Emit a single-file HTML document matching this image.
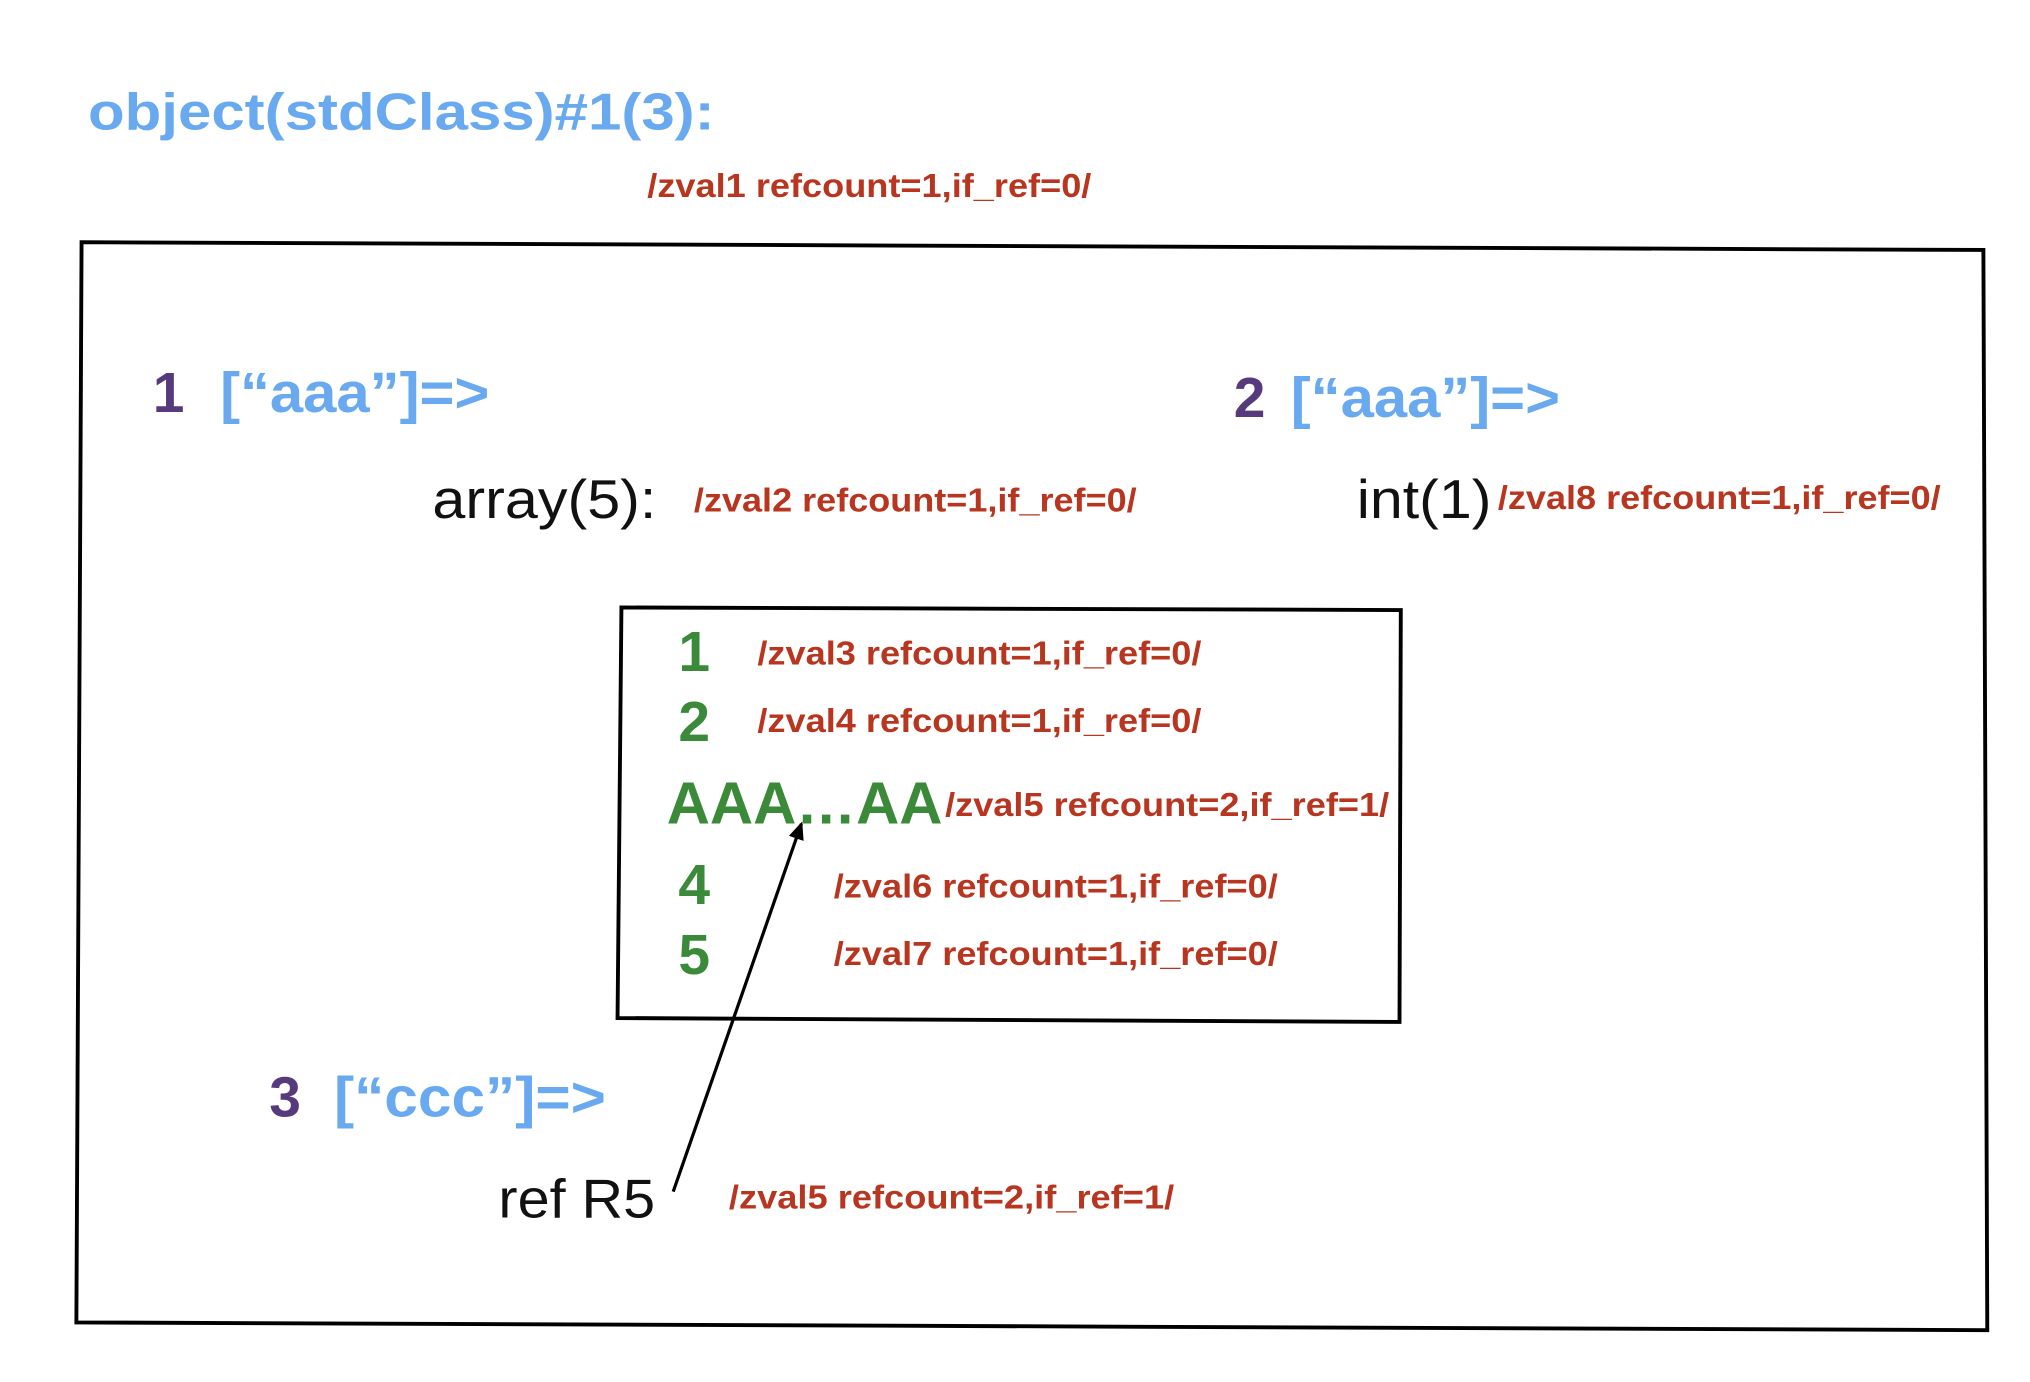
<!DOCTYPE html>
<html><head><meta charset="utf-8"><style>
html,body{margin:0;padding:0;background:#fff;}
svg{display:block;}
text{font-family:"Liberation Sans",Arial,sans-serif;}
.b{fill:#68a9f0;font-weight:bold;}
.p{fill:#563a7b;font-weight:bold;}
.g{fill:#3a8a3a;font-weight:bold;}
.r{fill:#b8351f;font-weight:bold;}
.k{fill:#111;}
</style></head><body>
<svg width="2030" height="1382" viewBox="0 0 1568 1067" preserveAspectRatio="none" xmlns="http://www.w3.org/2000/svg">
<defs><marker id="ah" markerWidth="14" markerHeight="12" refX="12" refY="6" orient="auto" markerUnits="userSpaceOnUse"><path d="M0,0 L14,6 L0,12 z" fill="#000"/></marker></defs>
<text class="b" x="68" y="100" font-size="40" textLength="484" lengthAdjust="spacingAndGlyphs">object(stdClass)#1(3):</text>
<text class="r" x="500" y="152" font-size="26" textLength="343" lengthAdjust="spacingAndGlyphs">/zval1 refcount=1,if_ref=0/</text>
<polygon points="63,187 1532,193 1535,1027 59,1021" fill="none" stroke="#000" stroke-width="3"/>
<text class="p" x="118" y="318" font-size="44">1</text>
<text class="b" x="170" y="318" font-size="44" textLength="208" lengthAdjust="spacingAndGlyphs">[“aaa”]=&gt;</text>
<text class="p" x="953" y="322" font-size="44">2</text>
<text class="b" x="997" y="322" font-size="44" textLength="208" lengthAdjust="spacingAndGlyphs">[“aaa”]=&gt;</text>
<text class="k" x="334" y="400" font-size="42" textLength="173" lengthAdjust="spacingAndGlyphs">array(5):</text>
<text class="r" x="536" y="395" font-size="26" textLength="342" lengthAdjust="spacingAndGlyphs">/zval2 refcount=1,if_ref=0/</text>
<text class="k" x="1048" y="400" font-size="42" textLength="104" lengthAdjust="spacingAndGlyphs">int(1)</text>
<text class="r" x="1157" y="393" font-size="26" textLength="342" lengthAdjust="spacingAndGlyphs">/zval8 refcount=1,if_ref=0/</text>
<polygon points="480,469 1082,471 1081,789 477,786" fill="none" stroke="#000" stroke-width="3"/>
<text class="g" x="524" y="518" font-size="44">1</text>
<text class="r" x="585" y="513" font-size="26" textLength="343" lengthAdjust="spacingAndGlyphs">/zval3 refcount=1,if_ref=0/</text>
<text class="g" x="524" y="572" font-size="44">2</text>
<text class="r" x="585" y="565" font-size="26" textLength="343" lengthAdjust="spacingAndGlyphs">/zval4 refcount=1,if_ref=0/</text>
<text class="g" x="515" y="636" font-size="46" textLength="213" lengthAdjust="spacingAndGlyphs">AAA…AA</text>
<text class="r" x="730" y="630" font-size="26" textLength="343" lengthAdjust="spacingAndGlyphs">/zval5 refcount=2,if_ref=1/</text>
<text class="g" x="524" y="698" font-size="44">4</text>
<text class="r" x="644" y="693" font-size="26" textLength="343" lengthAdjust="spacingAndGlyphs">/zval6 refcount=1,if_ref=0/</text>
<text class="g" x="524" y="752" font-size="44">5</text>
<text class="r" x="644" y="745" font-size="26" textLength="343" lengthAdjust="spacingAndGlyphs">/zval7 refcount=1,if_ref=0/</text>
<text class="p" x="208" y="862" font-size="44">3</text>
<text class="b" x="258" y="862" font-size="44" textLength="210" lengthAdjust="spacingAndGlyphs">[“ccc”]=&gt;</text>
<text class="k" x="385" y="940" font-size="42" textLength="121" lengthAdjust="spacingAndGlyphs">ref R5</text>
<text class="r" x="563" y="933" font-size="26" textLength="344" lengthAdjust="spacingAndGlyphs">/zval5 refcount=2,if_ref=1/</text>
<line x1="520" y1="920" x2="619" y2="636" stroke="#000" stroke-width="2.5" marker-end="url(#ah)"/>
</svg>
</body></html>
